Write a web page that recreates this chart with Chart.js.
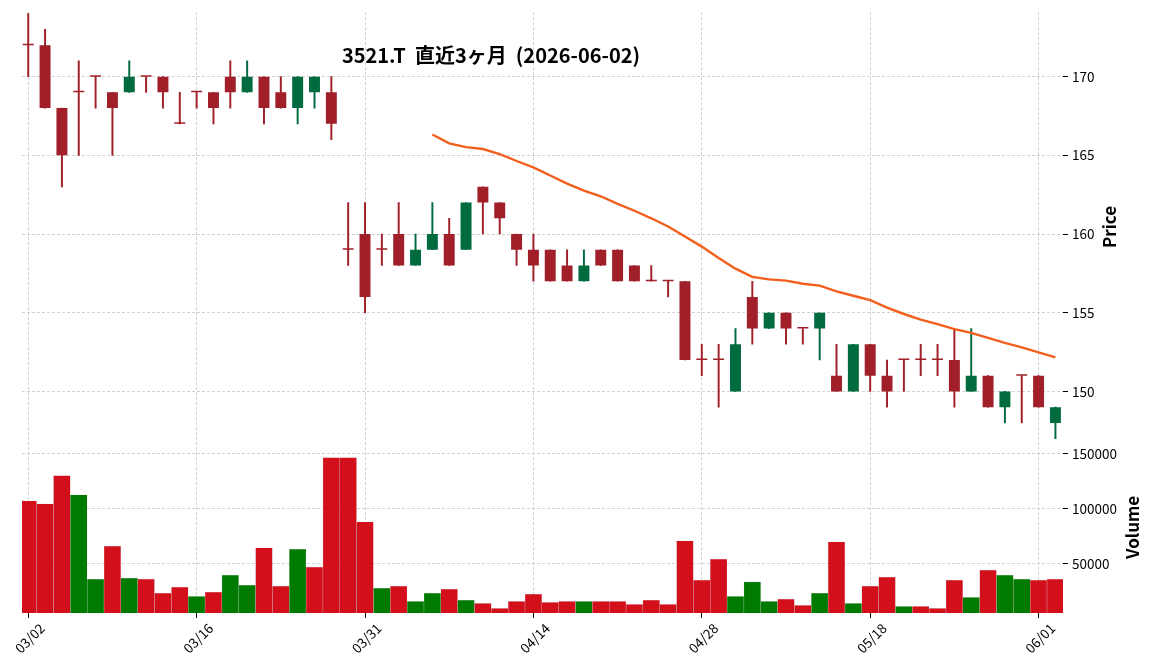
<!DOCTYPE html>
<html>
<head>
<meta charset="utf-8">
<script src="https://cdn.jsdelivr.net/npm/chart.js@4.4.1/dist/chart.umd.min.js"></script>
<style>
  html, body { margin: 0; padding: 0; background: #fff; }
  #c { display: block; }
</style>
</head>
<body>
<canvas id="c" width="1152" height="670"></canvas>
<script>
const chartTitle = '3521.T  直近3ヶ月  (2026-06-02)';

const dates = ['03/02','03/03','03/04','03/05','03/06','03/09','03/10','03/11','03/12','03/13',
  '03/16','03/17','03/18','03/19','03/23','03/24','03/25','03/26','03/27','03/30',
  '03/31','04/01','04/02','04/03','04/06','04/07','04/08','04/09','04/10','04/13',
  '04/14','04/15','04/16','04/17','04/20','04/21','04/22','04/23','04/24','04/27',
  '04/28','04/30','05/01','05/07','05/08','05/11','05/12','05/13','05/14','05/15',
  '05/18','05/19','05/20','05/21','05/22','05/25','05/26','05/27','05/28','05/29',
  '06/01','06/02'];

const opens  = [172,172,168,169,170,169,169,170,170,167, 169,169,170,169,170,169,168,169,169,159,
                160,159,160,158,159,160,159,163,162,160, 159,159,158,157,159,159,158,157,157,157,
                152,152,150,156,154,155,154,154,151,150, 153,151,152,152,152,152,150,151,149,151,
                151,148];
const highs  = [174,173,168,171,170,169,171,170,170,169, 169,169,171,171,170,170,170,170,170,162,
                162,160,162,160,162,161,162,163,162,160, 160,159,159,159,159,159,158,158,157,157,
                153,153,154,157,155,155,154,155,153,153, 153,152,152,153,153,154,154,151,150,151,
                151,149];
const lows   = [170,168,163,165,168,165,169,169,168,167, 168,167,168,169,167,168,167,168,166,158,
                155,158,158,158,159,158,159,160,160,158, 157,157,157,157,158,157,157,157,156,152,
                151,149,150,153,154,153,153,152,150,150, 150,149,150,151,151,149,150,149,148,148,
                149,147];
const closes = [172,168,165,169,170,168,170,170,169,167, 169,168,169,170,168,168,170,170,167,159,
                156,159,158,159,160,158,162,162,161,159, 158,157,157,158,158,157,157,157,157,152,
                152,152,153,154,155,154,154,155,150,153, 151,150,152,152,152,150,151,149,150,151,
                149,149];
const volumes = [107200,104400,130100,112700,35600,65900,36500,35600,22800,28300,
                 20000,23700,39300,30100,64100,29200,63100,46600,146600,146600,
                 87900,27400,29200,15400,22800,26500,16400,13600,9000,15400,
                 21900,14500,15400,15400,15400,15400,12700,16400,12700,70500,
                 34700,54000,20000,33100,15400,17300,11800,22800,69600,13600,
                 29200,37500,10800,10800,9000,34700,19100,43900,39300,35600,
                 34700,35600];

// 25-day moving average, starts at the 25th session
const maStart = 24;
const ma25 = [166.32,165.76,165.52,165.40,165.08,164.64,164.24,163.72,163.20,162.76,
              162.40,161.92,161.48,161.00,160.48,159.84,159.20,158.48,157.80,157.28,
              157.12,157.04,156.84,156.72,156.36,156.08,155.80,155.32,154.92,154.56,
              154.28,153.96,153.72,153.40,153.08,152.80,152.48,152.16];

const priceTicks = [150, 155, 160, 165, 170];
const volumeTicks = [50000, 100000, 150000];
const dateTicks = [0, 10, 20, 30, 40, 50, 60];

const upCandle = '#006b3e', downCandle = '#a01f29';
const upVol = '#007a00', downVol = '#d40f1c';
const maColor = '#f25f1c';
const fontFamily = '"Noto Sans CJK JP", "Noto Sans", sans-serif';

const idx = dates.map((d, i) => i);
const candleColors = idx.map(i => closes[i] > opens[i] ? upCandle : downCandle);
const volColors = idx.map(i => (i > 0 && closes[i] > closes[i - 1]) ? upVol : downVol);

const gridStyle = { color: '#c6c6c6', lineWidth: 0.8, tickColor: '#000', tickLength: 5, tickWidth: 1, offset: false };
const borderStyle = { display: false, dash: [3, 2] };

const textPlugin = {
  id: 'texts',
  afterDraw(chart) {
    const ctx = chart.ctx;
    const py = chart.scales.y, vy = chart.scales.yv;
    ctx.save();
    ctx.fillStyle = '#000';
    ctx.textAlign = 'center';
    ctx.textBaseline = 'middle';
    ctx.font = 'bold 20px ' + fontFamily;
    ctx.fillText(chartTitle, 491, 55);

    ctx.font = 'bold 17px ' + fontFamily;
    ctx.translate(py.left + 47, (py.top + py.bottom) / 2);
    ctx.rotate(-Math.PI / 2);
    ctx.fillText('Price', 0, 0);
    ctx.restore();

    ctx.save();
    ctx.fillStyle = '#000';
    ctx.textAlign = 'center';
    ctx.textBaseline = 'middle';
    ctx.font = 'bold 17px ' + fontFamily;
    ctx.translate(vy.left + 70, (vy.top + vy.bottom) / 2);
    ctx.rotate(-Math.PI / 2);
    ctx.fillText('Volume', 0, 0);
    ctx.restore();
  }
};

new Chart(document.getElementById('c'), {
  type: 'bar',
  data: {
    datasets: [
      {
        type: 'line',
        label: 'MA25',
        data: ma25.map((v, k) => ({ x: maStart + k, y: v })),
        yAxisID: 'y',
        borderColor: maColor,
        borderWidth: 2.4,
        pointRadius: 0,
        tension: 0
      },
      {
        label: 'body',
        data: idx.map(i => ({ x: i, y: [opens[i], closes[i]] })),
        yAxisID: 'y',
        backgroundColor: candleColors,
        grouped: false,
        categoryPercentage: 1,
        barPercentage: 0.65,
        minBarLength: 1.5
      },
      {
        label: 'wick',
        data: idx.map(i => ({ x: i, y: [lows[i], highs[i]] })),
        yAxisID: 'y',
        backgroundColor: candleColors,
        grouped: false,
        barThickness: 1.3
      },
      {
        label: 'Volume',
        data: idx.map(i => ({ x: i, y: volumes[i] })),
        yAxisID: 'yv',
        backgroundColor: volColors,
        borderColor: 'rgba(0,0,0,0.12)',
        borderWidth: 0.5,
        grouped: false,
        categoryPercentage: 1,
        barPercentage: 1
      }
    ]
  },
  options: {
    responsive: false,
    animation: false,
    events: [],
    layout: { padding: { top: 10, left: 22, right: 0, bottom: 0 } },
    plugins: { legend: { display: false }, tooltip: { enabled: false } },
    scales: {
      x: {
        type: 'linear',
        offset: false,
        min: -0.37,
        max: 61.45,
        grid: gridStyle,
        border: borderStyle,
        afterBuildTicks: (s) => { s.ticks = dateTicks.map(v => ({ value: v })); },
        afterFit: (s) => { s.height = 57; },
        ticks: {
          autoSkip: false,
          minRotation: 45,
          maxRotation: 45,
          labelOffset: 14,
          padding: 2,
          color: '#000',
          font: { family: fontFamily, size: 13.5 },
          callback: (v) => dates[v]
        }
      },
      y: {
        type: 'linear',
        position: 'right',
        stack: 'panes',
        stackWeight: 2.51,
        min: 146.8,
        max: 174.1,
        grid: gridStyle,
        border: borderStyle,
        afterBuildTicks: (s) => { s.ticks = priceTicks.map(v => ({ value: v })); },
        afterFit: (s) => { s.width = 89; },
        ticks: { padding: 4, color: '#000', font: { family: fontFamily, size: 13.5 } }
      },
      yv: {
        type: 'linear',
        position: 'right',
        stack: 'panes',
        stackWeight: 1,
        min: 4700,
        max: 161000,
        grid: gridStyle,
        border: borderStyle,
        afterBuildTicks: (s) => { s.ticks = volumeTicks.map(v => ({ value: v })); },
        afterFit: (s) => { s.width = 89; },
        ticks: { padding: 4, color: '#000', font: { family: fontFamily, size: 13.5 }, callback: (v) => String(v) }
      }
    }
  },
  plugins: [textPlugin]
});
</script>
</body>
</html>
